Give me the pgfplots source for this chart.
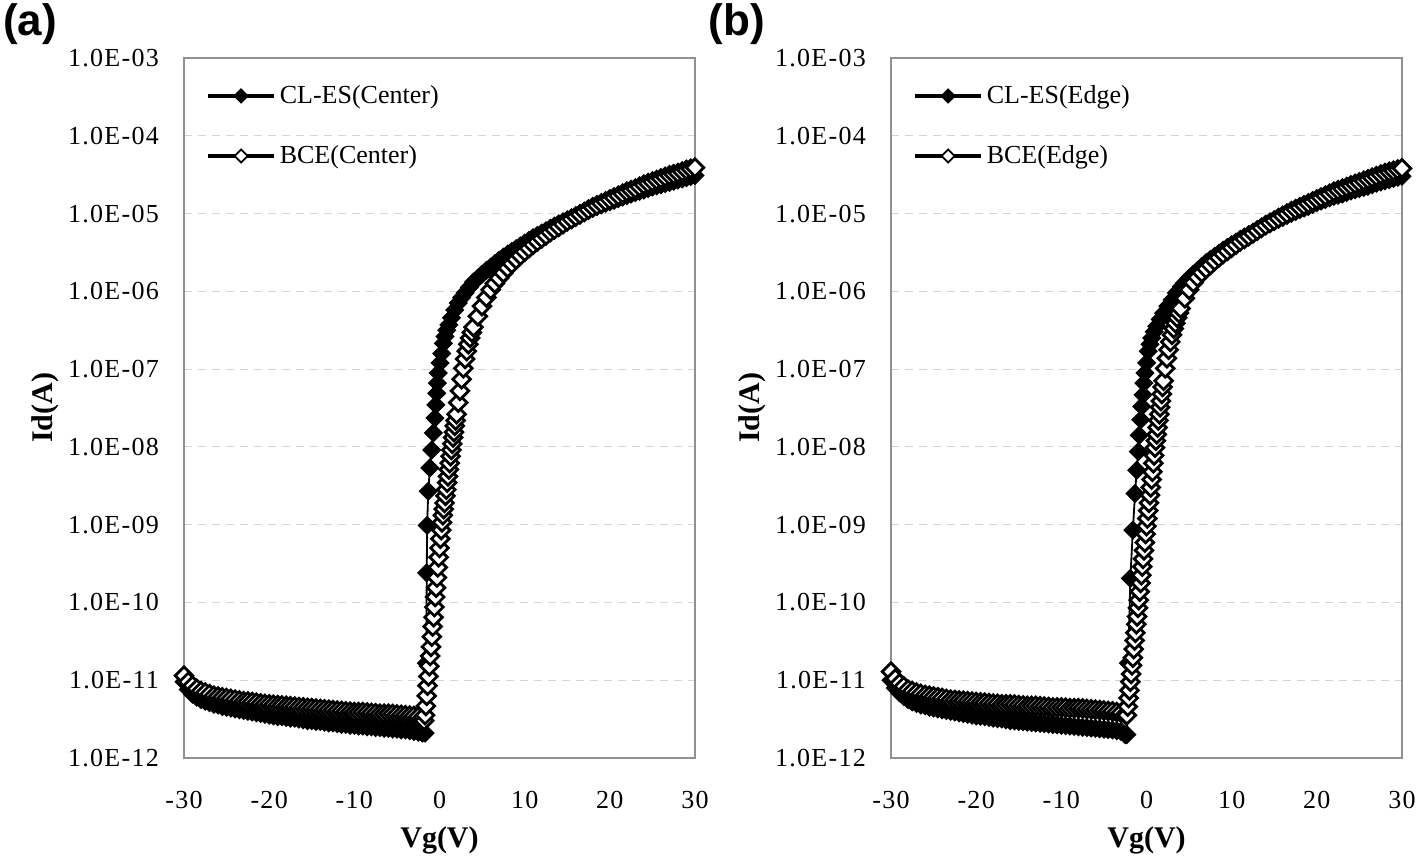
\documentclass[border=0pt]{standalone}
\usepackage{fontspec}
\setmainfont{Liberation Serif}
\newfontfamily\tickfont[LetterSpace=5]{Liberation Serif}
\newfontfamily\headfont{Liberation Sans}
\usepackage{pgfplots}
\pgfplotsset{compat=1.18}
\definecolor{framegray}{RGB}{145,145,145}
\definecolor{gridgray}{RGB}{212,212,212}

\pgfplotsset{
  panel/.style={
    scale only axis, width=255.5pt, height=350pt,
    xmin=-30, xmax=30, ymin=-12, ymax=-3,
    xtick={-30,-20,-10,0,10,20,30},
    xticklabels={-30,-20,-10,0,10,20,30},
    ytick={-12,-11,-10,-9,-8,-7,-6,-5,-4,-3},
    yticklabels={1.0E-12,1.0E-11,1.0E-10,1.0E-09,1.0E-08,1.0E-07,1.0E-06,1.0E-05,1.0E-04,1.0E-03},
    major tick length=0pt,
    axis line style={framegray, line width=0.8pt},
    ymajorgrids, grid style={gridgray, dash pattern=on 4pt off 3pt, line width=0.6pt},
    tick label style={font=\fontsize{13}{15}\tickfont, black},
    yticklabel style={xshift=-9pt},
    xticklabel style={yshift=-13pt},
    every axis x label/.style={at={(axis description cs:0.5,0)}, anchor=base, yshift=-45pt, font=\fontsize{15}{17}\selectfont\bfseries},
    every axis y label/.style={at={(axis description cs:-0.272,0.5)}, rotate=90, anchor=center, font=\fontsize{15}{17}\selectfont\bfseries},
    xlabel={Vg(V)}, ylabel={Id(A)},
    clip=false,
    legend cell align=left,
    legend style={draw=none, fill=none, inner sep=0pt, at={(axis description cs:0,1)}, anchor=north west, xshift=11pt, yshift=-11.5pt, row sep=15.5pt, font=\fontsize{13}{15}\selectfont, nodes={inner sep=2pt}},
    legend image code/.code={
      \draw[#1, line width=1.7pt, mark=none] (0pt,0pt) -- (33pt,0pt);
      \draw[#1, mark size=2.3pt, every mark/.append style={line width=0.9pt}] plot coordinates {(16.5pt,0pt)};
    },
  },
  cles/.style={black, line width=0.9pt, mark=square*, mark size=3.1pt, mark options={rotate=45, fill=black, draw=black, line width=0.6pt}},
  bce/.style={black, line width=0.9pt, mark=square*, mark size=3.1pt, mark options={rotate=45, fill=white, draw=black, line width=1.4pt}},
}

\begin{document}
\begin{tikzpicture}
\useasboundingbox (0,0) rectangle (709pt,428pt);

% ---------------- panel (a) ----------------
\begin{axis}[panel, at={(92pt,49pt)}, anchor=south west]
\addplot[cles] coordinates {
(-30,-11.02) (-29.5,-11.12) (-29,-11.18) (-28.5,-11.22) (-28,-11.25) (-27.5,-11.27) (-27,-11.29) (-26.5,-11.31) (-26,-11.32) (-25.5,-11.34) (-25,-11.35) (-24.5,-11.36) (-24,-11.37) (-23.5,-11.38) (-23,-11.39) (-22.5,-11.40) (-22,-11.41) (-21.5,-11.42) (-21,-11.43) (-20.5,-11.44) (-20,-11.45) (-19.5,-11.46) (-19,-11.47) (-18.5,-11.47) (-18,-11.48) (-17.5,-11.49) (-17,-11.49) (-16.5,-11.50) (-16,-11.51) (-15.5,-11.52) (-15,-11.52) (-14.5,-11.53) (-14,-11.53) (-13.5,-11.54) (-13,-11.55) (-12.5,-11.55) (-12,-11.56) (-11.5,-11.57) (-11,-11.57) (-10.5,-11.58) (-10,-11.58) (-9.5,-11.59) (-9,-11.59) (-8.5,-11.60) (-8,-11.60) (-7.5,-11.61) (-7,-11.61) (-6.5,-11.62) (-6,-11.62) (-5.5,-11.63) (-5,-11.63) (-4.5,-11.64) (-4,-11.64) (-3.5,-11.65) (-3,-11.66) (-2.5,-11.67) (-2,-11.68) (-1.7,-11.68)
(-1.55,-10.78) (-1.5,-9.62) (-1.45,-9.01) (-1.32,-8.57) (-1.12,-8.27) (-0.92,-8.04) (-0.73,-7.82) (-0.53,-7.63) (-0.43,-7.46) (-0.33,-7.31) (-0.24,-7.18) (-0.14,-7.05) (0.06,-6.92) (0.26,-6.80) (0.45,-6.67) (0.65,-6.58) (0.85,-6.50) (1.1,-6.43) (1.4,-6.34) (1.8,-6.24) (2.2,-6.15) (2.6,-6.08) (3,-6.02) (3.5,-5.95) (4,-5.88) (4.5,-5.83) (5,-5.78) (5.5,-5.73)
(6,-5.69) (6.5,-5.645) (7,-5.60) (7.5,-5.56) (8,-5.52) (8.5,-5.485) (9,-5.45) (9.5,-5.415) (10,-5.38) (10.5,-5.345) (11,-5.31) (11.5,-5.28) (12,-5.25) (12.5,-5.22) (13,-5.19) (13.5,-5.16) (14,-5.13) (14.5,-5.105) (15,-5.08) (15.5,-5.055) (16,-5.03) (16.5,-5.005) (17,-4.98) (17.5,-4.955) (18,-4.93) (18.5,-4.91) (19,-4.89) (19.5,-4.87) (20,-4.85) (20.5,-4.83) (21,-4.81) (21.5,-4.79) (22,-4.77) (22.5,-4.75) (23,-4.73) (23.5,-4.715) (24,-4.70) (24.5,-4.68) (25,-4.66) (25.5,-4.645) (26,-4.63) (26.5,-4.615) (27,-4.60) (27.5,-4.585) (28,-4.57) (28.5,-4.555) (29,-4.54) (29.5,-4.525) (30,-4.51)
};
\addlegendentry{CL-ES(Center)}
\addplot[bce] coordinates {
(-30,-10.94) (-29.5,-11.02) (-29,-11.07) (-28.5,-11.11) (-28,-11.14) (-27.5,-11.16) (-27,-11.18) (-26.5,-11.20) (-26,-11.21) (-25.5,-11.22) (-25,-11.23) (-24.5,-11.24) (-24,-11.25) (-23.5,-11.26) (-23,-11.27) (-22.5,-11.275) (-22,-11.28) (-21.5,-11.29) (-21,-11.30) (-20.5,-11.305) (-20,-11.31) (-19.5,-11.315) (-19,-11.32) (-18.5,-11.325) (-18,-11.33) (-17.5,-11.335) (-17,-11.34) (-16.5,-11.345) (-16,-11.35) (-15.5,-11.355) (-15,-11.36) (-14.5,-11.365) (-14,-11.37) (-13.5,-11.375) (-13,-11.38) (-12.5,-11.385) (-12,-11.39) (-11.5,-11.395) (-11,-11.40) (-10.5,-11.405) (-10,-11.41) (-9.5,-11.41) (-9,-11.41) (-8.5,-11.415) (-8,-11.42) (-7.5,-11.425) (-7,-11.43) (-6.5,-11.43) (-6,-11.43) (-5.5,-11.435) (-5,-11.44) (-4.5,-11.445) (-4,-11.45) (-3.5,-11.455) (-3,-11.46) (-2.5,-11.47) (-2,-11.48)
(-1.8,-11.52) (-1.7,-11.45) (-1.6,-11.33) (-1.5,-11.20) (-1.4,-11.07) (-1.3,-10.95) (-1.2,-10.82) (-1.1,-10.69) (-1.0,-10.57) (-0.9,-10.44) (-0.8,-10.31) (-0.7,-10.19) (-0.6,-10.06) (-0.5,-9.93) (-0.4,-9.81) (-0.3,-9.68) (-0.2,-9.55) (-0.1,-9.42) (0,-9.30) (0.1,-9.18) (0.2,-9.07) (0.3,-8.97)
(0.4,-8.88) (0.5,-8.80) (0.6,-8.72) (0.7,-8.63) (0.8,-8.55) (0.9,-8.46) (1.0,-8.38) (1.1,-8.29) (1.2,-8.21) (1.3,-8.12) (1.4,-8.04) (1.5,-7.96) (1.6,-7.88) (1.7,-7.81) (1.8,-7.73) (1.9,-7.66) (2.0,-7.58) (2.2,-7.43) (2.4,-7.28) (2.6,-7.13) (2.8,-6.99) (3.0,-6.87) (3.2,-6.77) (3.4,-6.68) (3.6,-6.60) (3.8,-6.53) (4.0,-6.46) (4.5,-6.32) (5.0,-6.19) (5.5,-6.08) (6.0,-5.98) (6.5,-5.90)
(7,-5.83) (7.5,-5.765) (8,-5.70) (8.5,-5.645) (9,-5.59) (9.5,-5.54) (10,-5.49) (10.5,-5.445) (11,-5.40) (11.5,-5.36) (12,-5.32) (12.5,-5.28) (13,-5.24) (13.5,-5.205) (14,-5.17) (14.5,-5.135) (15,-5.10) (15.5,-5.07) (16,-5.04) (16.5,-5.01) (17,-4.98) (17.5,-4.95) (18,-4.92) (18.5,-4.895) (19,-4.87) (19.5,-4.845) (20,-4.82) (20.5,-4.795) (21,-4.77) (21.5,-4.745) (22,-4.72) (22.5,-4.70) (23,-4.68) (23.5,-4.655) (24,-4.63) (24.5,-4.61) (25,-4.59) (25.5,-4.57) (26,-4.55) (26.5,-4.53) (27,-4.51) (27.5,-4.495) (28,-4.48) (28.5,-4.46) (29,-4.44) (29.5,-4.425) (30,-4.41)
};
\addlegendentry{BCE(Center)}
\end{axis}

% ---------------- panel (b) ----------------
\begin{axis}[panel, at={(445.5pt,49pt)}, anchor=south west]
\addplot[cles] coordinates {
(-30,-11.00) (-29.5,-11.10) (-29,-11.16) (-28.5,-11.21) (-28,-11.25) (-27.5,-11.28) (-27,-11.30) (-26.5,-11.32) (-26,-11.33) (-25.5,-11.35) (-25,-11.36) (-24.5,-11.37) (-24,-11.38) (-23.5,-11.39) (-23,-11.40) (-22.5,-11.41) (-22,-11.42) (-21.5,-11.43) (-21,-11.44) (-20.5,-11.45) (-20,-11.46) (-19.5,-11.465) (-19,-11.47) (-18.5,-11.48) (-18,-11.49) (-17.5,-11.495) (-17,-11.50) (-16.5,-11.51) (-16,-11.52) (-15.5,-11.525) (-15,-11.53) (-14.5,-11.535) (-14,-11.54) (-13.5,-11.545) (-13,-11.55) (-12.5,-11.555) (-12,-11.56) (-11.5,-11.565) (-11,-11.57) (-10.5,-11.575) (-10,-11.58) (-9.5,-11.585) (-9,-11.59) (-8.5,-11.595) (-8,-11.60) (-7.5,-11.605) (-7,-11.61) (-6.5,-11.615) (-6,-11.62) (-5.5,-11.625) (-5,-11.63) (-4.5,-11.635) (-4,-11.64) (-3.5,-11.65) (-3,-11.66) (-2.5,-11.70) (-2.3,-11.70)
(-2.14,-10.78) (-1.9,-9.69) (-1.6,-9.07) (-1.35,-8.60) (-1.15,-8.30) (-0.96,-8.06) (-0.85,-7.85) (-0.68,-7.65) (-0.56,-7.48) (-0.4,-7.33) (-0.3,-7.18) (-0.18,-7.05) (0.02,-6.92) (0.21,-6.77) (0.4,-6.68) (0.61,-6.60) (0.9,-6.52) (1.2,-6.45) (1.6,-6.36) (2.0,-6.28) (2.5,-6.19) (3.0,-6.11) (3.5,-6.02) (4.1,-5.94) (4.5,-5.89) (5.0,-5.83) (5.5,-5.78)
(6,-5.73) (6.5,-5.68) (7,-5.63) (7.5,-5.59) (8,-5.55) (8.5,-5.51) (9,-5.47) (9.5,-5.435) (10,-5.40) (10.5,-5.365) (11,-5.33) (11.5,-5.30) (12,-5.27) (12.5,-5.24) (13,-5.21) (13.5,-5.18) (14,-5.15) (14.5,-5.125) (15,-5.10) (15.5,-5.075) (16,-5.05) (16.5,-5.025) (17,-5.00) (17.5,-4.975) (18,-4.95) (18.5,-4.93) (19,-4.91) (19.5,-4.885) (20,-4.86) (20.5,-4.84) (21,-4.82) (21.5,-4.80) (22,-4.78) (22.5,-4.765) (23,-4.75) (23.5,-4.73) (24,-4.71) (24.5,-4.695) (25,-4.68) (25.5,-4.665) (26,-4.65) (26.5,-4.63) (27,-4.61) (27.5,-4.595) (28,-4.58) (28.5,-4.565) (29,-4.55) (29.5,-4.535) (30,-4.52)
};
\addlegendentry{CL-ES(Edge)}
\addplot[bce] coordinates {
(-30,-10.89) (-29.5,-10.98) (-29,-11.04) (-28.5,-11.08) (-28,-11.12) (-27.5,-11.14) (-27,-11.16) (-26.5,-11.175) (-26,-11.19) (-25.5,-11.20) (-25,-11.21) (-24.5,-11.22) (-24,-11.23) (-23.5,-11.24) (-23,-11.25) (-22.5,-11.255) (-22,-11.26) (-21.5,-11.265) (-21,-11.27) (-20.5,-11.275) (-20,-11.28) (-19.5,-11.285) (-19,-11.29) (-18.5,-11.295) (-18,-11.30) (-17.5,-11.305) (-17,-11.31) (-16.5,-11.31) (-16,-11.31) (-15.5,-11.315) (-15,-11.32) (-14.5,-11.325) (-14,-11.33) (-13.5,-11.33) (-13,-11.33) (-12.5,-11.335) (-12,-11.34) (-11.5,-11.345) (-11,-11.35) (-10.5,-11.35) (-10,-11.35) (-9.5,-11.355) (-9,-11.36) (-8.5,-11.36) (-8,-11.36) (-7.5,-11.365) (-7,-11.37) (-6.5,-11.375) (-6,-11.38) (-5.5,-11.385) (-5,-11.39) (-4.5,-11.395) (-4,-11.40) (-3.5,-11.41) (-3,-11.42) (-2.5,-11.44)
(-2.3,-11.45) (-2.2,-11.34) (-2.1,-11.23) (-2.0,-11.13) (-1.9,-11.02) (-1.8,-10.92) (-1.7,-10.81) (-1.6,-10.71) (-1.5,-10.60) (-1.4,-10.49) (-1.3,-10.39) (-1.2,-10.28) (-1.1,-10.18) (-1.0,-10.07) (-0.9,-9.97) (-0.8,-9.86) (-0.7,-9.75) (-0.6,-9.65) (-0.5,-9.54) (-0.4,-9.44) (-0.3,-9.33) (-0.2,-9.23) (-0.1,-9.12) (0,-9.02)
(0.1,-8.92) (0.2,-8.82) (0.3,-8.72) (0.4,-8.62) (0.5,-8.52) (0.6,-8.42) (0.7,-8.32) (0.8,-8.21) (0.9,-8.11) (1.0,-8.01) (1.1,-7.92) (1.2,-7.84) (1.3,-7.75) (1.4,-7.66) (1.5,-7.58) (1.6,-7.49) (1.7,-7.41) (1.8,-7.32) (1.9,-7.23) (2.0,-7.15) (2.2,-6.99) (2.4,-6.86) (2.6,-6.75) (2.8,-6.65) (3.0,-6.56) (3.2,-6.48) (3.4,-6.41) (3.6,-6.34) (3.8,-6.28) (4.0,-6.22) (4.5,-6.09) (5.0,-5.98) (5.5,-5.89) (6.0,-5.82) (6.5,-5.76)
(7,-5.71) (7.5,-5.66) (8,-5.61) (8.5,-5.565) (9,-5.52) (9.5,-5.48) (10,-5.44) (10.5,-5.40) (11,-5.36) (11.5,-5.325) (12,-5.29) (12.5,-5.255) (13,-5.22) (13.5,-5.185) (14,-5.15) (14.5,-5.12) (15,-5.09) (15.5,-5.06) (16,-5.03) (16.5,-5.00) (17,-4.97) (17.5,-4.945) (18,-4.92) (18.5,-4.895) (19,-4.87) (19.5,-4.845) (20,-4.82) (20.5,-4.795) (21,-4.77) (21.5,-4.745) (22,-4.72) (22.5,-4.70) (23,-4.68) (23.5,-4.66) (24,-4.64) (24.5,-4.62) (25,-4.60) (25.5,-4.58) (26,-4.56) (26.5,-4.54) (27,-4.52) (27.5,-4.50) (28,-4.48) (28.5,-4.465) (29,-4.45) (29.5,-4.435) (30,-4.42)
};
\addlegendentry{BCE(Edge)}
\end{axis}

\node[font=\fontsize{22}{24}\headfont\bfseries] at (15pt,416pt) {(a)};
\node[font=\fontsize{22}{24}\headfont\bfseries] at (368.5pt,416pt) {(b)};
\end{tikzpicture}
\end{document}
